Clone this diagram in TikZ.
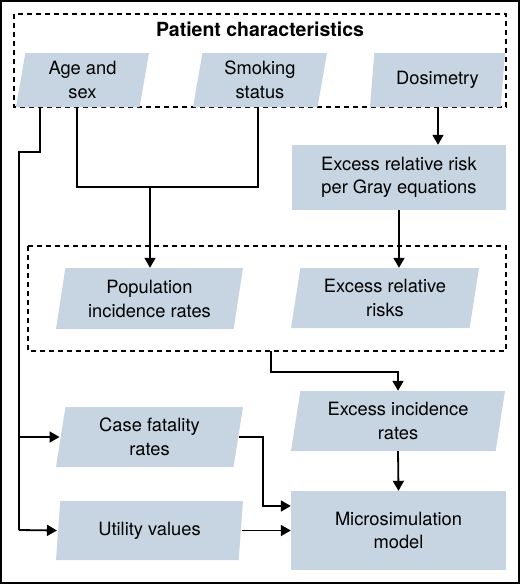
\documentclass[tikz,border=0pt]{standalone}
\usepackage{fontspec}
\setmainfont{TeX Gyre Heros}
\usetikzlibrary{shapes.geometric,arrows.meta}
\definecolor{boxfill}{HTML}{C6D5E1}
\tikzset{
  para/.style={trapezium, trapezium left angle=76, trapezium right angle=104,
    trapezium stretches body, fill=boxfill, inner sep=0pt, align=center,
    font=\fontsize{18.3}{24}\selectfont},
  rbox/.style={rectangle, fill=boxfill, inner sep=0pt, align=center,
    font=\fontsize{18.3}{23}\selectfont},
  group/.style={draw, dash pattern=on 5pt off 4pt, line width=1.2pt},
  conn/.style={line width=1.8pt},
  arr/.style={conn, -{Triangle[length=10pt,width=11pt]}},
}
\begin{document}
\begin{tikzpicture}[x=1pt,y=-1pt]
\useasboundingbox (0,0) rectangle (520,584);
\draw[line width=2pt] (1,1) rectangle (518.5,582.5);
% group 1
\draw[group] (14,14) rectangle (506,107);
\node[font=\fontsize{19.5}{22}\selectfont\bfseries] (title) at (260,29) {Patient characteristics};
\node[para, minimum width=133pt, minimum height=54pt] (age) at (82.5,80) {Age and\\sex};
\node[para, minimum width=134pt, minimum height=54pt] (smk) at (260,80) {Smoking\\status};
\node[para, minimum width=135pt, minimum height=54pt] (dos) at (437.5,80) {Dosimetry};
\node[rbox, minimum width=214pt, minimum height=65pt] (errg) at (399,177.5) {Excess relative risk\\per Gray equations};
% group 2
\draw[group] (28,246) rectangle (506,351);
\node[para, minimum width=187pt, minimum height=61pt] (pop) at (149.5,298.5) {Population\\incidence rates};
\node[para, minimum width=188pt, minimum height=60pt] (err) at (385,298) {Excess relative\\risks};
\node[para, minimum width=214pt, minimum height=60pt] (eir) at (398,421) {Excess incidence\\rates};
\node[rbox, minimum width=215pt, minimum height=79pt] (mic) at (398.5,530.5) {Microsimulation\\model};
\node[para, minimum width=187pt, minimum height=60pt] (cfr) at (149.5,437) {Case fatality\\rates};
\node[para, minimum width=187pt, minimum height=59pt] (uti) at (149.5,530.5) {Utility values};
% connector points
\coordinate (agebot) at (77,107);
\coordinate (smkbot) at (258,107);
\coordinate (join) at (150,187);
\coordinate (dosbot) at (438,107);
\coordinate (g2b) at (271,351);
\coordinate (g2c) at (398,372);
\coordinate (lft) at (40,107);
\coordinate (lftk) at (19,152);
\coordinate (lftend) at (19,530);
\coordinate (cfrk) at (263,436);
% connectors
\draw[conn] (agebot) |- (join) -| (smkbot);
\draw[arr] (join) -- (join |- pop.north);
\draw[arr] (dosbot) -- (dosbot |- errg.north);
\draw[arr] (errg.south) -- (errg.south |- err.north);
\draw[arr] (g2b) |- (g2c) -- (eir.north);
\draw[arr] (eir.south) -- (mic.north);
\draw[conn] (lft) |- (lftk) -- (lftend);
\draw[arr] (lftk |- cfr.west) -- ([xshift=-1pt]cfr.west);
\draw[arr] (lftend) -- ([xshift=-1pt]uti.west);
\draw[arr] ([xshift=1pt]cfr.east) -| (cfrk |- 0,506) -- (mic.west |- 0,506);
\draw[arr] ([xshift=1pt]uti.east) -- (mic.west |- uti.east);
\end{tikzpicture}
\end{document}
